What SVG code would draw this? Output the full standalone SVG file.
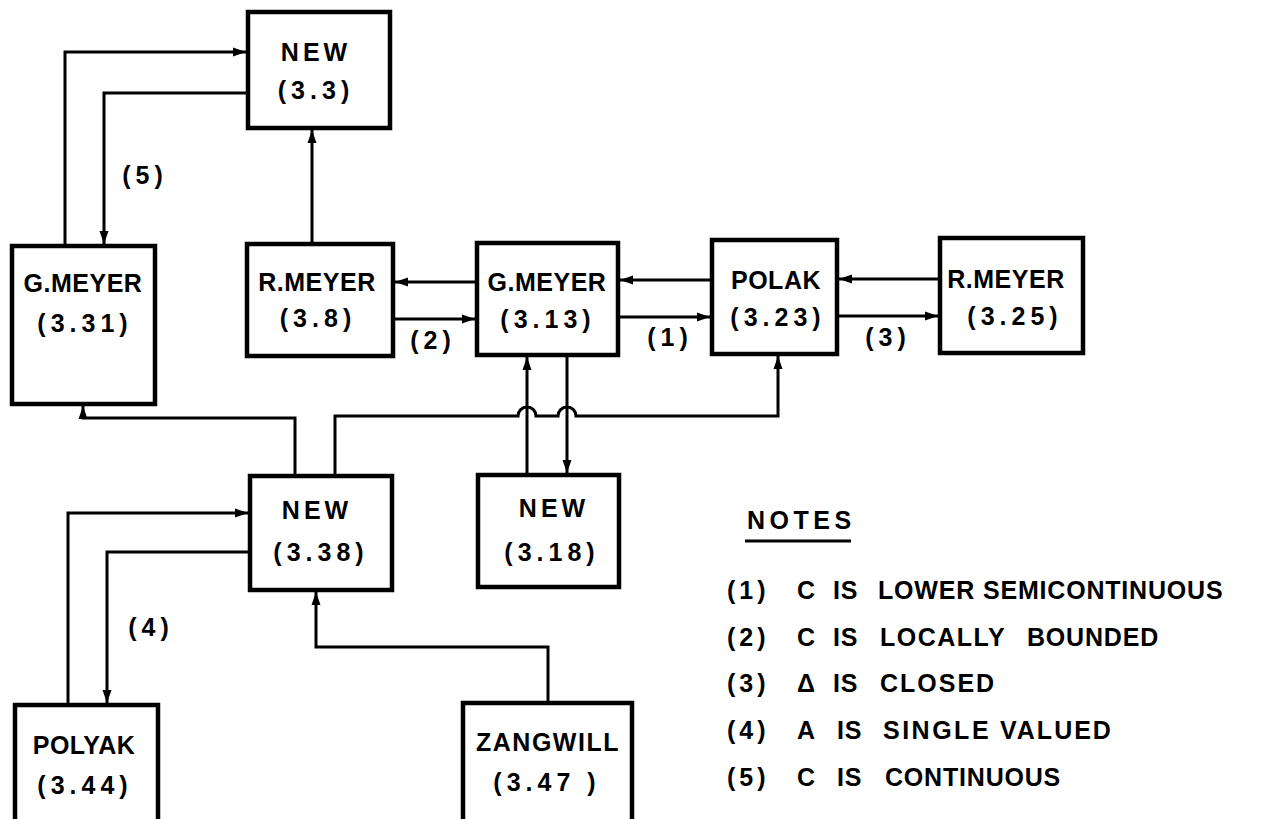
<svg xmlns="http://www.w3.org/2000/svg" width="1280" height="819" viewBox="0 0 1280 819">
<style>
.box{fill:#fff;stroke:#000;stroke-width:4.5}
.t{font-family:"Liberation Sans",Arial,sans-serif;font-weight:bold;font-size:25px;fill:#000;text-anchor:middle}
.n{letter-spacing:4px}
.w{letter-spacing:5px}
.nm{letter-spacing:0.5px}
.c{fill:none;stroke:#000;stroke-width:3;stroke-linejoin:miter}
.lbl{font-family:"Liberation Sans",Arial,sans-serif;font-weight:bold;font-size:25px;fill:#000;text-anchor:middle;letter-spacing:5px}
.note{font-family:"Liberation Sans",Arial,sans-serif;font-weight:bold;font-size:25px;fill:#000;letter-spacing:0.8px}
</style>
<defs>
<marker id="ah" markerUnits="userSpaceOnUse" markerWidth="14" markerHeight="12" refX="13" refY="6" orient="auto">
<path d="M0,1.5 L13,6 L0,10.5 Z" fill="#000"/>
</marker>
</defs>
<rect x="0" y="0" width="1280" height="819" fill="#fff"/>

<g id="connectors">
<path class="c" d="M65,246 V52 H246" marker-end="url(#ah)"/>
<path class="c" d="M248,93 H104 V244" marker-end="url(#ah)"/>
<path class="c" d="M312,244 V130" marker-end="url(#ah)"/>
<path class="c" d="M477,282 H395" marker-end="url(#ah)"/>
<path class="c" d="M393,319 H475" marker-end="url(#ah)"/>
<path class="c" d="M712,280 H620" marker-end="url(#ah)"/>
<path class="c" d="M618,317 H710" marker-end="url(#ah)"/>
<path class="c" d="M940,279 H839" marker-end="url(#ah)"/>
<path class="c" d="M837,316 H938" marker-end="url(#ah)"/>
<path class="c" d="M527,475 V357" marker-end="url(#ah)"/>
<path class="c" d="M567,355 V473" marker-end="url(#ah)"/>
<path class="c" d="M335,476 V416 H518 A9,9 0 0 1 536,416 H558 A9,9 0 0 1 576,416 H778 V356" marker-end="url(#ah)"/>
<path class="c" d="M295,476 V418 H83 V406" marker-end="url(#ah)"/>
<path class="c" d="M68,705 V513 H248" marker-end="url(#ah)"/>
<path class="c" d="M250,552 H107 V703" marker-end="url(#ah)"/>
<path class="c" d="M548,703 V647 H316 V592" marker-end="url(#ah)"/>
<text class="lbl" x="145" y="184">(5)</text>
<text class="lbl" x="433" y="349">(2)</text>
<text class="lbl" x="670" y="346">(1)</text>
<text class="lbl" x="888" y="346">(3)</text>
<text class="lbl" x="151" y="636">(4)</text>
</g>

<g id="new33">
<rect class="box" x="248" y="12" width="142" height="116"/>
<text class="t n" x="316" y="61">NEW</text>
<text class="t w" x="316" y="99">(3.3)</text>
</g>
<g id="gmeyer331">
<rect class="box" x="12" y="246" width="143" height="158"/>
<text class="t nm" x="83" y="292">G.MEYER</text>
<text class="t w" x="85" y="332">(3.31)</text>
</g>
<g id="rmeyer38">
<rect class="box" x="247" y="244" width="146" height="112"/>
<text class="t nm" x="317" y="291">R.MEYER</text>
<text class="t w" x="318" y="327">(3.8)</text>
</g>
<g id="gmeyer313">
<rect class="box" x="477" y="243" width="141" height="112"/>
<text class="t nm" x="547" y="291">G.MEYER</text>
<text class="t w" x="548" y="328">(3.13)</text>
</g>
<g id="polak323">
<rect class="box" x="712" y="240" width="125" height="114"/>
<text class="t nm" x="776" y="289">POLAK</text>
<text class="t w" x="778" y="326">(3.23)</text>
</g>
<g id="rmeyer325">
<rect class="box" x="940" y="238" width="143" height="115"/>
<text class="t nm" x="1006" y="288">R.MEYER</text>
<text class="t w" x="1015" y="325">(3.25)</text>
</g>
<g id="new338">
<rect class="box" x="250" y="476" width="142" height="114"/>
<text class="t n" x="317" y="519">NEW</text>
<text class="t w" x="321" y="561">(3.38)</text>
</g>
<g id="new318">
<rect class="box" x="478" y="475" width="141" height="112"/>
<text class="t n" x="554" y="517">NEW</text>
<text class="t w" x="552" y="561">(3.18)</text>
</g>
<g id="polyak344">
<rect class="box" x="15" y="705" width="143" height="130"/>
<text class="t nm" x="84" y="754">POLYAK</text>
<text class="t w" x="85" y="794">(3.44)</text>
</g>
<g id="zangwill347">
<rect class="box" x="463" y="703" width="169" height="130"/>
<text class="t" style="letter-spacing:1.5px" x="548" y="751">ZANGWILL</text>
<text class="t w" x="547" y="791">(3.47 )</text>
</g>

<g id="notes">
<text class="note" x="747" y="529" style="letter-spacing:4.5px">NOTES</text>
<line x1="745" y1="541" x2="851" y2="541" stroke="#000" stroke-width="3"/>
<text class="note" y="599"><tspan x="727" style="letter-spacing:4px">(1)</tspan><tspan x="797">C</tspan><tspan x="833">IS</tspan><tspan x="878">LOWER</tspan><tspan x="983">SEMICONTINUOUS</tspan></text>
<text class="note" y="646"><tspan x="727" style="letter-spacing:4px">(2)</tspan><tspan x="797">C</tspan><tspan x="833">IS</tspan><tspan x="880" style="letter-spacing:1.5px">LOCALLY</tspan><tspan x="1027">BOUNDED</tspan></text>
<text class="note" y="692"><tspan x="727" style="letter-spacing:4px">(3)</tspan><tspan x="797">Δ</tspan><tspan x="833">IS</tspan><tspan x="880" style="letter-spacing:2px">CLOSED</tspan></text>
<text class="note" y="739"><tspan x="727" style="letter-spacing:4px">(4)</tspan><tspan x="797">A</tspan><tspan x="837">IS</tspan><tspan x="883" style="letter-spacing:2.5px">SINGLE</tspan><tspan x="1000" style="letter-spacing:2px">VALUED</tspan></text>
<text class="note" y="786"><tspan x="727" style="letter-spacing:4px">(5)</tspan><tspan x="797">C</tspan><tspan x="837">IS</tspan><tspan x="885">CONTINUOUS</tspan></text>
</g>
</svg>
